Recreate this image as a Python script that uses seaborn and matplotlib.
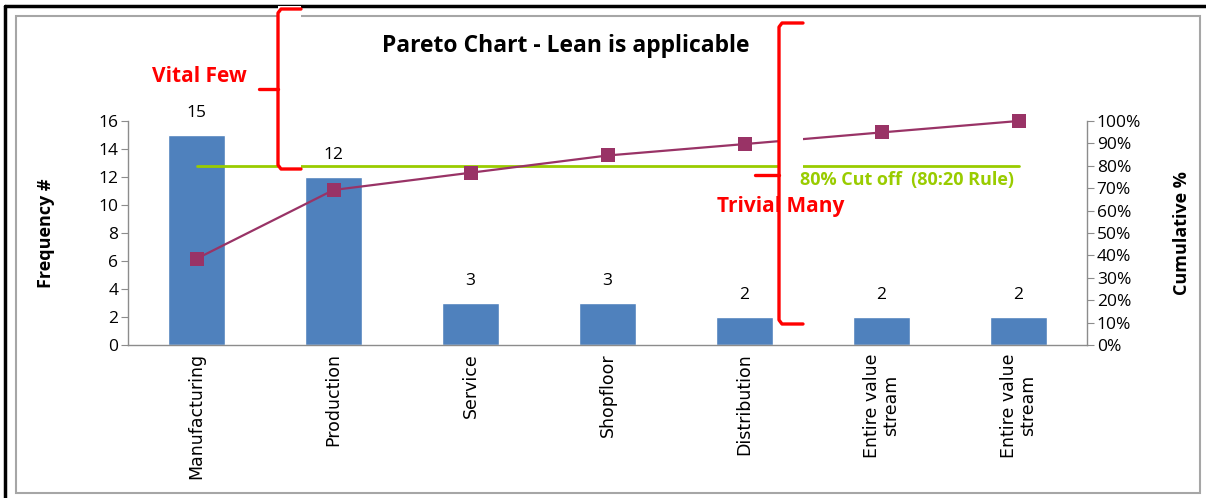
import numpy as np
import pandas as pd
import matplotlib
matplotlib.use("Agg")
import matplotlib.pyplot as plt
import seaborn as sns
from matplotlib.lines import Line2D
from matplotlib.patches import Rectangle
from matplotlib.ticker import PercentFormatter

# ---- data ----
categories = ["Manufacturing", "Production", "Service", "Shopfloor",
              "Distribution", "Entire value\nstream", "Entire value\nstream"]
frequency = [15, 12, 3, 3, 2, 2, 2]
cumulative_pct = [0.385, 0.692, 0.769, 0.846, 0.897, 0.949, 1.0]
cutoff = 0.80

title_text = "Pareto Chart - Lean is applicable"
bar_color = "#4F81BD"
line_color = "#993366"
green = "#99CC00"
red = "#FF0000"
spine_gray = "#8C8C8C"

sns.set_style("white")
plt.rcParams["font.family"] = ["Open Sans", "DejaVu Sans"]
plt.rcParams["text.color"] = "black"
plt.rcParams["axes.labelcolor"] = "black"
plt.rcParams["xtick.labelcolor"] = "black"
plt.rcParams["ytick.labelcolor"] = "black"

W, H = 1206, 498
fig = plt.figure(figsize=(W / 100, H / 100), dpi=100)

def fx(x):
    return x / W

def fy(y):
    return 1 - y / H

ax = fig.add_axes([fx(128), fy(345), fx(1087) - fx(128), fy(121) - fy(345)])
ax2 = ax.twinx()

df = pd.DataFrame({"pos": np.arange(len(categories)), "freq": frequency,
                   "cum": cumulative_pct})

sns.barplot(data=df, x="pos", y="freq", color=bar_color, width=0.41,
            saturation=1, ax=ax, zorder=2)
ax.set_xlim(-0.5, len(categories) - 0.5)
ax.set_ylim(0, 16)
ax.set_yticks(range(0, 17, 2))
ax.set_xticks(np.arange(len(categories)))
ax.set_xticklabels(categories, rotation=90, family="DejaVu Sans", fontsize=12.5,
                   ha="center", va="top", linespacing=1.05, color="black")
ax.set_xticks(np.arange(-0.5, len(categories)), minor=True)
ax.tick_params(axis="x", which="major", length=0, pad=6)
ax.tick_params(axis="x", which="minor", length=6, color=spine_gray, direction="out")
ax.tick_params(axis="y", length=5, color=spine_gray, labelsize=12.5, pad=2,
               labelcolor="black")
ax.set_xlabel("")
ax.set_ylabel("Frequency #", fontsize=13, fontweight="bold", labelpad=31)

for i, v in enumerate(frequency):
    ax.annotate(str(v), (i, v), xytext=(0, 16), textcoords="offset points",
                ha="center", va="center", fontsize=12.5, color="black")

# cumulative line + 80% cut off on the right axis
ax2.plot(df["pos"], [cutoff] * len(df), color=green, lw=2.0, zorder=2)
sns.lineplot(data=df, x="pos", y="cum", color=line_color, lw=1.6, marker="s",
             markersize=10, markeredgewidth=0, ax=ax2, zorder=3, clip_on=False)
ax2.set_ylim(0, 1)
ax2.set_yticks(np.arange(0, 1.01, 0.1))
ax2.yaxis.set_major_formatter(PercentFormatter(1.0, decimals=0))
ax2.tick_params(axis="y", length=5, color=spine_gray, labelsize=12.5, pad=2,
                labelcolor="black")
ax2.set_ylabel("Cumulative %", fontsize=13, fontweight="bold", labelpad=23)
ax2.set_xlabel("")

for a in (ax, ax2):
    a.spines["top"].set_visible(False)
    for s in ("left", "right", "bottom"):
        a.spines[s].set_color(spine_gray)
        a.spines[s].set_linewidth(1.0)
    a.patch.set_alpha(0)
ax.spines["right"].set_visible(False)
ax2.spines["left"].set_visible(False)
ax2.spines["bottom"].set_visible(False)

# frames
fig.add_artist(Rectangle((fx(16), fy(493)), fx(1200) - fx(16), fy(16) - fy(493),
                         transform=fig.transFigure, fill=False,
                         edgecolor="#A6A6A6", lw=1.5, zorder=0))
fig.add_artist(Line2D([fx(5), fx(5)], [fy(6), fy(498)], color="black", lw=2.5))
fig.add_artist(Line2D([fx(5), fx(1206)], [fy(6), fy(6)], color="black", lw=2.5))

# brackets with white backing
def bracket(x, y_top, y_mid, y_bot, tip, serif):
    fig.add_artist(Rectangle((fx(x), fy(y_bot + 3)), fx(x + serif) - fx(x),
                             fy(y_top - 3) - fy(y_bot + 3), transform=fig.transFigure,
                             facecolor="white", edgecolor="none", zorder=5))
    xs = [fx(x + serif), fx(x + 3), fx(x), fx(x), fx(x + 3), fx(x + serif)]
    ys = [fy(y_top), fy(y_top), fy(y_top + 4), fy(y_bot - 4), fy(y_bot), fy(y_bot)]
    fig.add_artist(Line2D(xs, ys, color=red, lw=2.4, solid_joinstyle="round",
                          zorder=6))
    fig.add_artist(Line2D([fx(x - tip), fx(x)], [fy(y_mid), fy(y_mid)], color=red,
                          lw=2.4, solid_capstyle="round", zorder=6))

bracket(278, 9, 89, 169, 19, 23)
bracket(779, 23, 175, 324, 24, 24)

fig.text(fx(566), fy(46), title_text, ha="center", va="center", fontsize=16.5,
         fontweight="bold")
fig.text(fx(152), fy(77), "Vital Few", ha="left", va="center", fontsize=15,
         fontweight="bold", color=red, zorder=7)
fig.text(fx(717), fy(206), "Trivial Many", ha="left", va="center", fontsize=15,
         fontweight="bold", color=red, zorder=7)
fig.text(fx(800), fy(180), "80% Cut off  (80:20 Rule)", ha="left", va="center",
         fontsize=13, fontweight="bold", color=green, zorder=7)

fig.savefig("out.png", dpi=100)
